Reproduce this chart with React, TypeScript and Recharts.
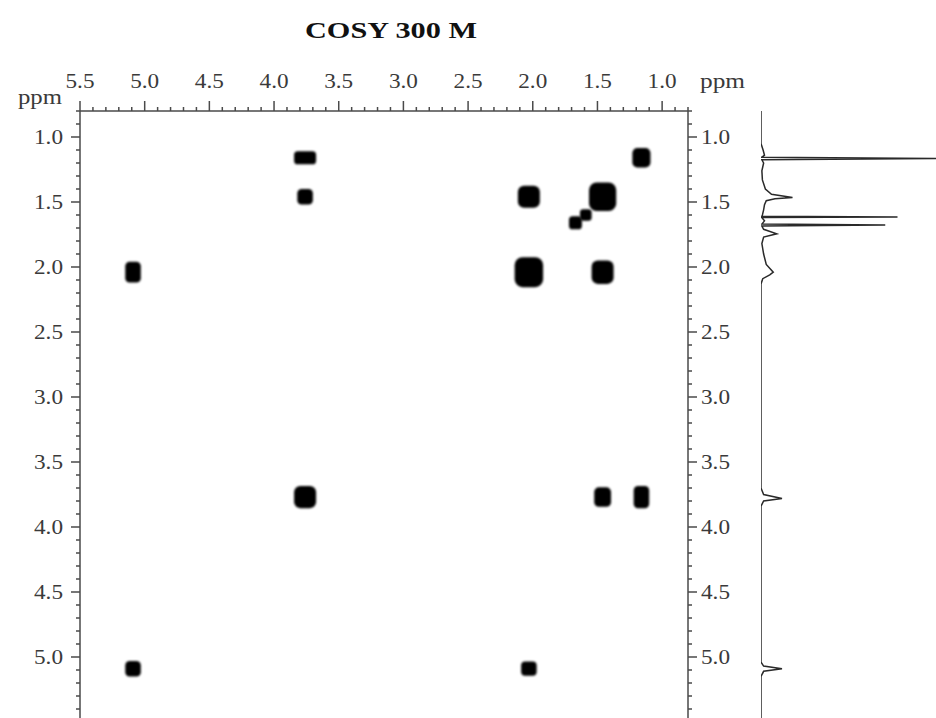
import { ScatterChart, Scatter, XAxis, YAxis, LineChart, Line } from "recharts";

// COSY 2D map, both axes in ppm (f2 horizontal, f1 vertical)
const title = "COSY 300 M";
const axisUnit = "ppm";
const ppmRange = [0.8, 5.5];

// [f2 ppm, f1 ppm, footprint f2 ppm, footprint f1 ppm]
const diagonalPeaks = [
  [1.16, 1.16, 0.14, 0.15],
  [1.46, 1.46, 0.21, 0.22],
  [1.59, 1.6, 0.09, 0.09],
  [1.67, 1.66, 0.1, 0.1],
  [2.03, 2.04, 0.22, 0.23],
  [3.76, 3.77, 0.17, 0.17],
  [5.09, 5.09, 0.12, 0.12],
];
const crossPeaks = [
  [3.76, 1.16, 0.17, 0.1],
  [3.76, 1.46, 0.12, 0.12],
  [2.03, 1.46, 0.17, 0.17],
  [5.09, 2.04, 0.12, 0.16],
  [1.46, 2.04, 0.17, 0.18],
  [1.46, 3.77, 0.13, 0.15],
  [1.16, 3.77, 0.12, 0.17],
  [2.03, 5.09, 0.12, 0.11],
];

// 1D projection along f1
const spectrumPpm = [
  0.8, 1.05, 1.1, 1.14, 1.155, 1.165, 1.175, 1.2, 1.26, 1.33, 1.4, 1.44, 1.465, 1.475, 1.49, 1.52,
  1.56, 1.6, 1.61, 1.615, 1.62, 1.645, 1.67, 1.677, 1.685, 1.71, 1.745, 1.77, 1.82, 1.9, 1.98,
  2.04, 2.06, 2.09, 2.13, 3.7, 3.75, 3.78, 3.8, 3.84, 5.04, 5.07, 5.09, 5.11, 5.15, 5.5,
];
const spectrumIntensity = [
  0, 0, 1.2, 2, 0.5, 104, 0.5, 1.5, 0.5, 0.8, 2.5, 6, 18, 8, 3, 2,
  1.5, 0.8, 0.5, 78, 0.5, 2, 0.5, 71, 0.5, 1.5, 9, 1.5, 0.5, 1.5, 3,
  7, 5, 1, 0, 0, 1.5, 12, 1.5, 0, 0, 1.5, 12, 1.5, 0, 0,
];

const W = 936;
const H = 740;
const PLOT_LEFT = 80;
const PLOT_TOP = 111;
const PLOT_W = 608;
const PLOT_H = 611;
const AXIS_W = 50;
const X_AXIS_H = 40;
const SPAN = ppmRange[1] - ppmRange[0];
const PX_X = PLOT_W / SPAN;
const PX_Y = PLOT_H / SPAN;

const FONT = "'Liberation Serif', 'Times New Roman', serif";
const INK = "#3a3a3a";
const AXIS = "#4a4a4a";
const LABEL_SIZE = 21;

const ticks: number[] = [];
for (let t = 8; t <= 55; t++) ticks.push(t / 10);

const isMajor = (v: number) => Math.abs(v * 2 - Math.round(v * 2)) < 1e-6;

const toPoints = (rows: number[][]) =>
  rows.map(([x, y, wx, wy]) => ({ x, y, wx, wy }));
const peakData = [...toPoints(diagonalPeaks), ...toPoints(crossPeaks)];
const spectrumData = spectrumPpm.map((ppm, i) => ({ ppm, intensity: spectrumIntensity[i] }));

const Label = ({ x, y, anchor, children }: any) => (
  <text
    x={x}
    y={y}
    textAnchor={anchor}
    fontFamily={FONT}
    fontSize={LABEL_SIZE}
    fill={INK}
    textLength={29}
    lengthAdjust="spacingAndGlyphs"
  >
    {children}
  </text>
);

const TopTick = (props: any) => {
  const { x, y, payload } = props;
  const v = payload.value;
  const major = isMajor(v);
  return (
    <g>
      <line x1={x} y1={y} x2={x} y2={y - (major ? 10 : 4)} stroke={AXIS} strokeWidth={1.5} />
      {major && <Label x={x} y={y - 23} anchor="middle">{v.toFixed(1)}</Label>}
    </g>
  );
};

const LeftTick = (props: any) => {
  const { x, y, payload } = props;
  const v = payload.value;
  const major = isMajor(v);
  return (
    <g>
      <line x1={x} y1={y} x2={x - (major ? 9 : 4)} y2={y} stroke={AXIS} strokeWidth={1.5} />
      {major && v < 5.5 && <Label x={x - 17} y={y + 7} anchor="end">{v.toFixed(1)}</Label>}
    </g>
  );
};

const RightTick = (props: any) => {
  const { x, y, payload } = props;
  const v = payload.value;
  const major = isMajor(v);
  return (
    <g>
      <line x1={x} y1={y} x2={x + (major ? 9 : 4)} y2={y} stroke={AXIS} strokeWidth={1.5} />
      {major && v < 5.5 && <Label x={x + 13} y={y + 7} anchor="start">{v.toFixed(1)}</Label>}
    </g>
  );
};

const PeakShape = (props: any) => {
  const { cx, cy, payload } = props;
  const w = payload.wx * PX_X;
  const h = payload.wy * PX_Y;
  const r = Math.min(w, h) * 0.28;
  return (
    <rect
      x={cx - w / 2}
      y={cy - h / 2}
      width={w}
      height={h}
      rx={r}
      ry={r}
      fill="#000"
      filter="url(#peakBlur)"
    />
  );
};

export default function App() {
  return (
    <div style={{ position: "fixed", left: 0, top: 0, width: W, height: 718, overflow: "hidden", background: "#fff" }}>
      <svg width={0} height={0} style={{ position: "absolute" }}>
        <defs>
          <filter id="peakBlur" x="-30%" y="-30%" width="160%" height="160%">
            <feGaussianBlur stdDeviation={1.2} />
          </filter>
        </defs>
      </svg>

      <div style={{ position: "absolute", left: 0, top: 0 }}>
        <ScatterChart
          width={W}
          height={H}
          margin={{ top: PLOT_TOP - X_AXIS_H, left: PLOT_LEFT - AXIS_W, right: W - PLOT_LEFT - PLOT_W - AXIS_W, bottom: H - PLOT_TOP - PLOT_H }}
        >
          <XAxis
            type="number"
            dataKey="x"
            orientation="top"
            height={X_AXIS_H}
            domain={ppmRange}
            reversed
            ticks={ticks}
            interval={0}
            tickSize={0}
            tickMargin={0}
            tickLine={false}
            tick={<TopTick />}
            axisLine={{ stroke: AXIS, strokeWidth: 1.5 }}
            allowDataOverflow
          />
          <YAxis
            yAxisId="left"
            type="number"
            dataKey="y"
            orientation="left"
            width={AXIS_W}
            domain={ppmRange}
            reversed
            ticks={ticks}
            interval={0}
            tickSize={0}
            tickMargin={0}
            tickLine={false}
            tick={<LeftTick />}
            axisLine={{ stroke: AXIS, strokeWidth: 1.5 }}
            allowDataOverflow
          />
          <YAxis
            yAxisId="right"
            type="number"
            dataKey="y"
            orientation="right"
            width={AXIS_W}
            domain={ppmRange}
            reversed
            ticks={ticks}
            interval={0}
            tickSize={0}
            tickMargin={0}
            tickLine={false}
            tick={<RightTick />}
            axisLine={{ stroke: AXIS, strokeWidth: 1.5 }}
            allowDataOverflow
          />
          <Scatter yAxisId="left" data={peakData} shape={<PeakShape />} isAnimationActive={false} />
        </ScatterChart>
      </div>

      <div style={{ position: "absolute", left: 741, top: 0 }}>
        <LineChart
          layout="vertical"
          width={W - 741}
          height={H}
          data={spectrumData}
          margin={{ top: PLOT_TOP, left: 20, right: 0, bottom: H - PLOT_TOP - PLOT_H }}
        >
          <XAxis type="number" domain={[0, 100]} hide allowDataOverflow />
          <YAxis type="number" dataKey="ppm" domain={ppmRange} hide allowDataOverflow />
          <Line
            type="linear"
            dataKey="intensity"
            stroke="#2a2a2a"
            strokeWidth={1.5}
            dot={false}
            isAnimationActive={false}
          />
        </LineChart>
      </div>

      <svg width={W} height={120} style={{ position: "absolute", left: 0, top: 0, pointerEvents: "none" }}>
        <text x={305} y={38} fontFamily={FONT} fontWeight="bold" fontSize={24} fill="#111" textLength={172} lengthAdjust="spacingAndGlyphs">
          {title}
        </text>
        <text x={18} y={104} fontFamily={FONT} fontSize={LABEL_SIZE} fill={INK} textLength={44} lengthAdjust="spacingAndGlyphs">
          {axisUnit}
        </text>
        <text x={700} y={88} fontFamily={FONT} fontSize={LABEL_SIZE} fill={INK} textLength={45} lengthAdjust="spacingAndGlyphs">
          {axisUnit}
        </text>
      </svg>
    </div>
  );
}
